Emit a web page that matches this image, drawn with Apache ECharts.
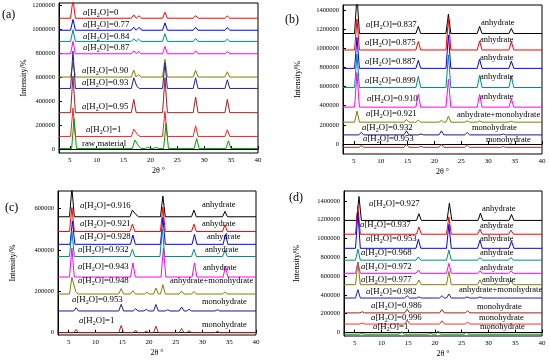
<!DOCTYPE html>
<html><head><meta charset="utf-8">
<script src="https://cdn.jsdelivr.net/npm/echarts@6/dist/echarts.min.js"></script>
<style>html,body{margin:0;padding:0;background:#fff}#c{width:550px;height:362px}</style>
</head><body><div id="c"></div>
<script>
// ---------- data ----------
const xTicks = [5, 10, 15, 20, 25, 30, 35, 40];
const aTicks = [0, 200000, 400000, 600000, 800000, 1000000, 1200000];
const bTicks = [0, 200000, 400000, 600000, 800000, 1000000, 1200000, 1400000];
const cTicks = [0, 200000, 400000, 600000];
const dTicks = [0, 200000, 400000, 600000, 800000, 1000000, 1200000, 1400000];

// panel (a)
const aLabels = ['0', '0.77', '0.84', '0.87', '0.90', '0.93', '0.95', '1', 'raw material'];
const aColors = ['#ff0000', '#0000ff', '#008b8b', '#ff00ff', '#808000', '#2020a0', '#a02020', '#ff2020', '#00a000'];
const aBase = [1090000, 990000, 897000, 794000, 600000, 505000, 303000, 105000, 5000];
const aPeaks = [
  [[5.6,160000],[16.9,28000],[17.9,20000],[22.7,50000],[28.4,22000],[34.3,20000]],
  [[5.6,90000],[16.9,25000],[17.9,25000],[22.7,61000],[28.4,25000],[34.3,22000]],
  [[5.6,97000],[16.9,22000],[17.8,19000],[22.7,64000],[28.4,25000],[34.3,19000]],
  [[5.6,103000],[16.9,25000],[17.8,19000],[22.7,61000],[28.4,25000],[34.3,19000]],
  [[5.6,120000],[16.9,58000],[17.8,22000],[22.7,147000],[28.4,56000],[34.3,44000]],
  [[5.6,311000],[16.9,89000],[17.5,15000],[22.7,214000],[28.4,89000],[34.3,72000]],
  [[5.6,305000],[16.9,111000],[22.7,290000],[28.4,130000],[34.3,111000]],
  [[5.6,236000],[16.9,61000],[17.6,15000],[22.7,208000],[28.4,89000],[34.3,56000]],
  [[5.8,250000],[17.1,70000],[17.8,20000],[19.5,10000],[21.0,10000],[22.9,208000],[28.6,83000],[34.5,64000]]
];

// panel (b)
const bLabels = ['0.837', '0.875', '0.887', '0.899', '0.910', '0.921', '0.932', '0.953'];
const bPhase = ['anhydrate', 'anhydrate', 'anhydrate', 'anhydrate', 'anhydrate', 'anhydrate+monohydrate', 'monohydrate', 'monohydrate'];
const bColors = ['#000000', '#ff0000', '#0000ff', '#008b8b', '#ff00ff', '#808000', '#1a1a90', '#b02a2a'];
const bBase = [1154000, 982000, 790000, 590000, 385000, 228000, 95000, -35000];
const bPeaks = [
  [[5.6,400000],[17.0,74000],[22.6,204000],[28.4,74000],[34.3,53000]],
  [[5.6,323000],[17.0,88000],[22.6,330000],[28.4,95000],[34.3,88000]],
  [[5.6,323000],[17.0,84000],[22.6,347000],[28.4,95000],[34.3,77000]],
  [[5.6,351000],[17.0,116000],[22.6,340000],[28.4,130000],[34.3,116000]],
  [[5.6,361000],[17.0,133000],[22.6,291000],[28.4,133000],[34.3,88000]],
  [[5.6,116000],[14.8,28000],[17.0,21000],[21.3,18000],[22.6,63000],[26.1,14000],[28.4,12000],[34.3,10000]],
  [[6.4,28000],[14.8,42000],[17.5,10000],[21.3,42000],[26.1,25000],[32.8,8000]],
  [[6.4,18000],[14.8,35000],[17.5,10000],[21.3,35000],[26.1,25000],[32.8,8000]]
];

// panel (c)
const cLabels = ['0.916', '0.921', '0.928', '0.932', '0.943', '0.948', '0.953', '1'];
const cPhase = ['anhydrate', 'anhydrate', 'anhydrate', 'anhydrate', 'anhydrate', 'anhydrate+monohydrate', 'monohydrate', 'monohydrate'];
const cColors = ['#000000', '#ff0000', '#0000ff', '#008b8b', '#ff00ff', '#808000', '#1a1a90', '#b02a2a'];
const cBase = [560000, 489000, 427000, 368000, 269000, 187000, 105000, 0];
const cPeaks = [
  [[5.6,140000],[16.9,32000],[17.6,10000],[22.6,100000],[28.4,32000],[34.2,26000]],
  [[5.6,116000],[16.9,35000],[22.6,118000],[28.4,35000],[34.2,32000]],
  [[5.7,113000],[17.0,45000],[22.6,130000],[28.5,48000],[34.3,48000]],
  [[5.6,124000],[16.9,35000],[22.5,132000],[28.4,35000],[34.2,31000]],
  [[5.6,140000],[17.0,68000],[22.7,140000],[28.5,68000],[34.3,52000]],
  [[5.6,81000],[6.3,13000],[14.8,26000],[17.0,16000],[19.6,8000],[21.3,29000],[22.6,45000],[26.1,14000],[28.4,12000],[34.2,10000]],
  [[6.4,16000],[14.8,32000],[17.5,11000],[19.5,8000],[21.3,31000],[23.5,6000],[26.1,19000],[27.5,8000],[32.8,6000]],
  [[6.4,16000],[14.8,35000],[17.5,13000],[19.5,8000],[21.3,32000],[26.1,21000],[27.5,10000],[32.8,8000]]
];

// panel (d)
const dLabels = ['0.927', '0.937', '0.953', '0.968', '0.972', '0.977', '0.982', '0.986', '0.996', '1'];
const dPhase = ['anhydrate', 'anhydrate', 'anhydrate', 'anhydrate', 'anhydrate', 'anhydrate', 'anhydrate+monohydrate', 'monohydrate', 'monohydrate', 'monohydrate'];
const dColors = ['#000000', '#ff0000', '#0000ff', '#008b8b', '#ff00ff', '#808000', '#1f1fb0', '#a02020', '#ff3030', '#00a000'];
const dBase = [1193000, 1046000, 896000, 770000, 630000, 509000, 367000, 209000, 90000, -18000];
const dPeaks = [
  [[5.8,255000],[17.0,71000],[22.7,184000],[28.5,78000],[34.3,64000]],
  [[5.6,300000],[17.0,78000],[22.6,184000],[28.4,53000],[34.2,43000]],
  [[5.6,380000],[16.9,96000],[22.6,255000],[28.4,85000],[34.3,78000]],
  [[5.6,117000],[16.9,35000],[22.6,106000],[28.4,28000],[34.2,28000]],
  [[5.6,117000],[16.9,35000],[22.6,106000],[28.4,28000],[34.2,28000]],
  [[5.6,238000],[17.0,50000],[22.6,142000],[28.4,50000],[34.2,50000]],
  [[5.6,89000],[14.8,25000],[17.0,12000],[21.3,25000],[22.6,43000],[26.0,12000],[28.4,12000]],
  [[6.4,12000],[14.8,39000],[21.3,35000],[26.1,21000]],
  [[6.4,12000],[14.8,43000],[21.3,35000],[26.1,21000]],
  [[6.3,8000],[13.8,28000],[19.2,8000],[20.6,35000],[25.9,21000]]
];

// ---------- layout ----------
const FONT = "'Liberation Serif', 'Times New Roman', serif";
const panels = [
  {grid:{left:59,right:292,top:3,bottom:209}, y:[-33000,1217000], ticks:aTicks, colors:aColors, base:aBase, peaks:aPeaks, nameGap:26, tag:'(a)', tagPos:[2,15]},
  {grid:{left:343,right:8,top:5,bottom:208}, y:[-104500,1452000], ticks:bTicks, colors:bColors, base:bBase, peaks:bPeaks, nameGap:41, tag:'(b)', tagPos:[285,20]},
  {grid:{left:58,right:294,top:191,bottom:27}, y:[-11000,684500], ticks:cTicks, colors:cColors, base:cBase, peaks:cPeaks, nameGap:41, tag:'(c)', tagPos:[5,208]},
  {grid:{left:344,right:8,top:191,bottom:26}, y:[-37000,1506000], ticks:dTicks, colors:dColors, base:dBase, peaks:dPeaks, nameGap:43, tag:'(d)', tagPos:[289,198]}
];

const aPos = [[83,13],[83,25],[83,37],[83,48],[82,71],[82,83],[82,107],[86,130]];
const bPos = [[366,25],[365,43],[365,62],[365,81],[367,99],[366,114],[362,128],[363,139]];
const bPhasePos = [[481,23],[480,40],[480,58],[480,77],[480,97],[457,115],[472,128],[486,140]];
const cPos = [[80,206],[80,224],[80,237],[78,250],[78,267],[78,281],[72,300],[79,321]];
const cPhasePos = [[202,205],[202,224],[207,237],[205,250],[203,268],[170,281],[202,302],[202,325]];
const dPos = [[369,204],[360,225],[366,239],[361,253],[361,267],[361,280],[366,292],[371,306],[371,318],[373,327]];
const dPhasePos = [[482,209],[480,226],[480,239],[480,253],[480,268],[482,280],[459,290],[477,307],[479,318],[480,327]];

// each peak: foot, apex, foot on the trace's baseline; close peaks join apex to apex (shoulder)
function trace(base, peaks) {
  const HW = 0.45, NEAR = 2 * HW - 0.01;
  const s = peaks.slice().sort((p, q) => p[0] - q[0]);
  const pts = [[3, base]];
  s.forEach(([p, h], j) => {
    const prev = s[j - 1], next = s[j + 1];
    if (!prev || p - prev[0] >= NEAR) pts.push([p - HW, base]);
    pts.push([p, base + h]);
    if (!next || next[0] - p >= NEAR) pts.push([p + HW, base]);
  });
  pts.push([40, base]);
  return pts;
}

const grids = [], xAxes = [], yAxes = [], series = [], graphics = [];
panels.forEach((P, i) => {
  grids.push(Object.assign({show:true, borderColor:'#000', borderWidth:1, backgroundColor:'transparent'}, P.grid));
  xAxes.push({
    type:'value', gridIndex:i, min:3, max:40,
    name:'2θ °', nameLocation:'middle', nameGap:14,
    nameTextStyle:{fontFamily:FONT, fontSize:8, color:'#000'},
    axisLine:{lineStyle:{color:'#000', width:1}},
    axisTick:{inside:true, length:3, customValues:xTicks, lineStyle:{color:'#000'}},
    axisLabel:{customValues:xTicks, fontFamily:FONT, fontSize:7, color:'#000', margin:4, formatter:v => String(v)},
    splitLine:{show:false}
  });
  yAxes.push({
    type:'value', gridIndex:i, min:P.y[0], max:P.y[1],
    name:'Intensity/%', nameLocation:'middle', nameGap:P.nameGap,
    nameTextStyle:{fontFamily:FONT, fontSize:8, color:'#000'},
    axisLine:{show:true, lineStyle:{color:'#000', width:1}},
    axisTick:{inside:true, length:3, customValues:P.ticks, lineStyle:{color:'#000'}},
    axisLabel:{customValues:P.ticks, fontFamily:FONT, fontSize:6.5, color:'#000', margin:4, formatter:v => String(v)},
    splitLine:{show:false}
  });
  P.base.forEach((b, k) => {
    series.push({
      type:'line', xAxisIndex:i, yAxisIndex:i, data:trace(b, P.peaks[k]),
      showSymbol:false, symbol:'none', animation:false, clip:true,
      lineStyle:{color:P.colors[k], width:1}, z:2 + k
    });
  });
  graphics.push({type:'text', x:P.tagPos[0], y:P.tagPos[1], z:100,
    style:{text:P.tag, fontFamily:FONT, fontSize:12, fill:'#000', verticalAlign:'middle', align:'left'}});
});

const rich = {
  i:{fontStyle:'italic', fontFamily:FONT, fontSize:8.8, fill:'#000'},
  n:{fontFamily:FONT, fontSize:8.8, fill:'#000'},
  s:{fontFamily:FONT, fontSize:6, fill:'#000', padding:[5,0,0,0]}
};
function aw(val) { return '{i|a}{n|[H}{s|2}{n|O]=' + val + '}'; }
function addLabels(labels, pos) {
  labels.forEach((v, k) => {
    if (!pos[k]) return;
    graphics.push({type:'text', x:pos[k][0], y:pos[k][1], z:100,
      style:{text:aw(v), rich:rich, fontFamily:FONT, fontSize:8.8, fill:'#000', verticalAlign:'middle', align:'left'}});
  });
}
function addPhase(labels, pos) {
  labels.forEach((v, k) => {
    graphics.push({type:'text', x:pos[k][0], y:pos[k][1], z:100,
      style:{text:v, fontFamily:FONT, fontSize:8.5, fill:'#000', verticalAlign:'middle', align:'left'}});
  });
}
addLabels(aLabels.slice(0, 8), aPos);
graphics.push({type:'text', x:82, y:144, z:100,
  style:{text:aLabels[8], fontFamily:FONT, fontSize:8.8, fill:'#000', verticalAlign:'middle', align:'left'}});
addLabels(bLabels, bPos); addPhase(bPhase, bPhasePos);
addLabels(cLabels, cPos); addPhase(cPhase, cPhasePos);
addLabels(dLabels, dPos); addPhase(dPhase, dPhasePos);

const chart = echarts.init(document.getElementById('c'), null, {renderer:'canvas'});
chart.setOption({
  animation:false, backgroundColor:'#fff',
  grid:grids, xAxis:xAxes, yAxis:yAxes, series:series, graphic:graphics
});
</script></body></html>
